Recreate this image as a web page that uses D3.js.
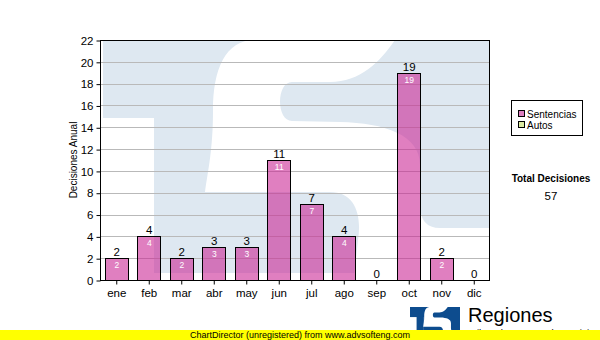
<!DOCTYPE html>
<html><head><meta charset="utf-8">
<script src="https://cdn.jsdelivr.net/npm/d3@7"></script>
<style>body{margin:0;background:#fff}svg{display:block;font-family:"Liberation Sans",Arial,sans-serif}</style>
</head><body><svg id="c" width="600" height="340"></svg>
<script>
const months = ["ene","feb","mar","abr","may","jun","jul","ago","sep","oct","nov","dic"];
const sentencias = [2,4,2,3,3,11,7,4,0,19,2,0];
const autos = [0,0,0,0,0,0,0,0,0,0,0,0];
const seriesNames = ["Sentencias","Autos"];
const legendColors = ["#dc7ebf","#dcebA2"];
const yTickValues = [0,2,4,6,8,10,12,14,16,18,20,22];
const yTitle = "Decisiones Anual";
const totalLabel = "Total Decisiones";
const footerText = "ChartDirector (unregistered) from www.advsofteng.com";
const brandTitle = "Regiones";
const brandSub = "Tribunal Supremo de Justicia";

const W = 600, H = 340, m = {top:40, right:110, bottom:60, left:100};
const svg = d3.select("#c");
svg.append("rect").attr("width", W).attr("height", H).attr("fill", "#fff");

const x = d3.scaleBand().domain(months).range([m.left, W - m.right]).paddingInner(0.292).paddingOuter(0.146);
const y = d3.scaleLinear().domain([0, 22]).range([H - m.bottom, m.top]);

const defs = svg.append("defs");
defs.append("clipPath").attr("id", "plotclip").append("rect")
  .attr("x", m.left).attr("y", m.top).attr("width", W - m.left - m.right).attr("height", H - m.top - m.bottom);
defs.append("clipPath").attr("id", "logoclip").append("rect")
  .attr("x", 103).attr("y", 40).attr("width", 387).attr("height", 233);

// logo shapes (in watermark coordinates)
function drawLogo(g, color) {
  g.append("rect").attr("x", 103).attr("y", 40).attr("width", 137).attr("height", 78).attr("fill", color);
  g.append("rect").attr("x", 154).attr("y", 117).attr("width", 52).attr("height", 156).attr("fill", color);
  g.append("path").attr("fill", color)
    .attr("d", "M205,40 H490 V273 H205 Z");
  g.append("path").attr("fill", "#fff")
    .attr("d", "M385,40 L255,40 C225,40 213,70 213,110 C213,150 208,170 205,192 L330,192 C355,192 362,215 358,240 L352,295 L495,295 L495,228 L440,228 Q420,228 420,205 L420,165 C420,135 385,123 340,122 L292,121 C276,121 276,82 292,82 L330,82 C360,82 380,62 395,40 Z");
}

// watermark
const wm = svg.append("g").attr("clip-path", "url(#plotclip)");
drawLogo(wm, "#dee8f1");

// gridlines
svg.append("g").selectAll("line").data(yTickValues.filter(v => v > 0 && v < 22)).join("line")
  .attr("x1", m.left).attr("x2", W - m.right)
  .attr("y1", d => Math.round(y(d)) + 0.5).attr("y2", d => Math.round(y(d)) + 0.5)
  .attr("stroke", "#b9b9b9").attr("stroke-width", 1);

// bars (stacked)
const rows = months.map((mo, i) => ({mo, s: sentencias[i], a: autos[i]}));
const stack = d3.stack().keys(["s", "a"])(rows);
const barColors = [{fill:"#c92392", op:0.58}, {fill:"#b9d64a", op:0.5}];
stack.forEach((layer, li) => {
  svg.append("g").selectAll("rect").data(layer.filter(d => d[1] - d[0] > 0)).join("rect")
    .attr("x", d => Math.round(x(d.data.mo)) + 0.5)
    .attr("y", d => Math.round(y(d[1])) + 0.5)
    .attr("width", Math.round(x.bandwidth()))
    .attr("height", d => Math.round(y(d[0])) - Math.round(y(d[1])))
    .attr("fill", barColors[li].fill).attr("fill-opacity", barColors[li].op)
    .attr("stroke", "#000").attr("stroke-width", 1);
});

// inside labels
svg.append("g").selectAll("text").data(rows.filter(d => d.s > 0)).join("text")
  .attr("x", d => x(d.mo) + x.bandwidth() / 2 + 0.5)
  .attr("y", d => y(d.s) + 10)
  .attr("text-anchor", "middle").attr("font-size", 8.5).attr("fill", "#fff")
  .text(d => d.s);

// total labels above
svg.append("g").selectAll("text").data(rows).join("text")
  .attr("x", d => x(d.mo) + x.bandwidth() / 2 + 0.5)
  .attr("y", d => y(d.s + d.a) - 2)
  .attr("text-anchor", "middle").attr("font-size", 11.5).attr("fill", "#000")
  .text(d => d.s + d.a);

// frame
svg.append("rect").attr("x", m.left + 0.5).attr("y", m.top + 0.5)
  .attr("width", W - m.left - m.right - 1).attr("height", H - m.top - m.bottom)
  .attr("fill", "none").attr("stroke", "#000");

// axes
const ya = svg.append("g").attr("transform", `translate(${m.left + 0.5},0.5)`)
  .call(d3.axisLeft(y).tickValues(yTickValues).tickSize(4).tickPadding(3));
ya.select(".domain").remove();
ya.selectAll("text").attr("font-size", 11.5).attr("fill", "#000").attr("font-family", "Liberation Sans, Arial");
ya.selectAll("line").attr("stroke", "#000");

const xa = svg.append("g").attr("transform", `translate(0.5,${H - m.bottom + 0.5})`)
  .call(d3.axisBottom(x).tickSize(4).tickPadding(4));
xa.select(".domain").remove();
xa.selectAll("text").attr("font-size", 11.5).attr("fill", "#000").attr("font-family", "Liberation Sans, Arial");
xa.selectAll("line").attr("stroke", "#000");

// y title
svg.append("text").attr("transform", `translate(77,${(m.top + H - m.bottom) / 2}) rotate(-90)`)
  .attr("text-anchor", "middle").attr("font-size", 10).attr("fill", "#000").text(yTitle);

// legend
const lg = svg.append("g");
lg.append("rect").attr("x", 511.5).attr("y", 100.5).attr("width", 71).attr("height", 35)
  .attr("fill", "#fff").attr("stroke", "#000");
seriesNames.forEach((n, i) => {
  lg.append("rect").attr("x", 518.5).attr("y", 110.5 + i * 11).attr("width", 6).attr("height", 6)
    .attr("fill", legendColors[i]).attr("stroke", "#000");
  lg.append("text").attr("x", 527).attr("y", 118 + i * 11).attr("font-size", 10).attr("fill", "#000").text(n);
});

// total
const total = d3.sum(sentencias) + d3.sum(autos);
svg.append("text").attr("x", 551).attr("y", 182).attr("text-anchor", "middle")
  .attr("font-size", 10).attr("font-weight", "bold").attr("fill", "#000").text(totalLabel);
svg.append("text").attr("x", 551).attr("y", 200).attr("text-anchor", "middle")
  .attr("font-size", 11.5).attr("fill", "#000").text(total);

// bottom logo
const lgo = svg.append("g").attr("transform", `translate(410,307) scale(${50/387}) translate(-103,-40)`);
const lgoInner = lgo.append("g").attr("clip-path", "url(#logoclip)");
drawLogo(lgoInner, "#0d4c8e");
svg.append("text").attr("x", 468).attr("y", 322).attr("font-size", 20).attr("fill", "#000").text(brandTitle);
svg.append("text").attr("x", 468).attr("y", 336).attr("font-size", 9.8).attr("fill", "#000").text(brandSub);

// footer
svg.append("rect").attr("x", 0).attr("y", 330).attr("width", W).attr("height", 10).attr("fill", "#ffff00");
svg.append("text").attr("x", 300).attr("y", 338).attr("text-anchor", "middle")
  .attr("font-size", 9).attr("fill", "#000").text(footerText);
</script></body></html>
